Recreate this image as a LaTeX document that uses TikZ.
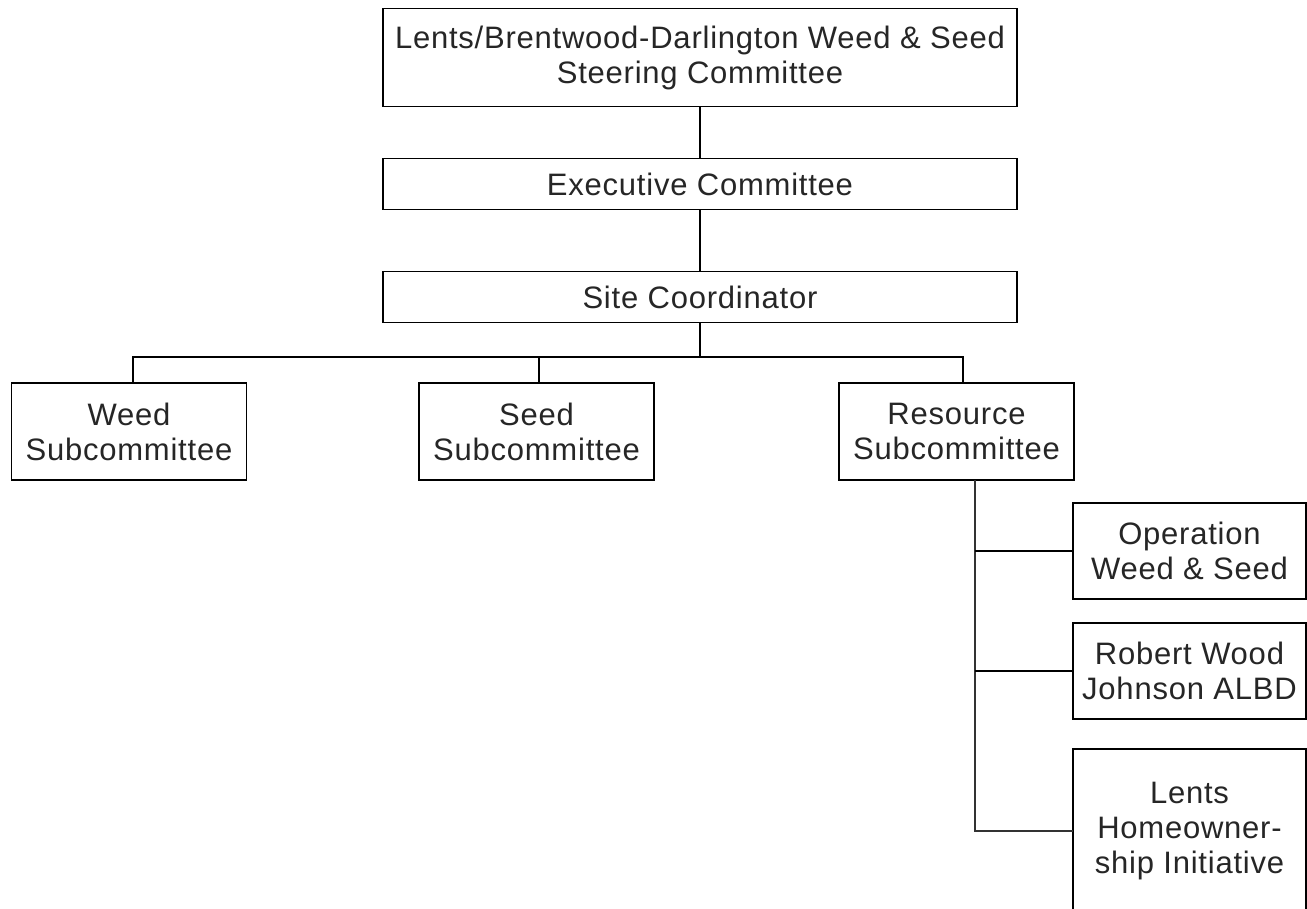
\documentclass[tikz,border=0pt]{standalone}
\usepackage{fontspec}
\setmainfont[LetterSpace=2.5]{Liberation Sans}
\begin{document}
\begin{tikzpicture}[x=1pt,y=-1pt,inner sep=0pt,outer sep=0pt,line width=1.6pt,
orgbox/.style={draw,rectangle,align=center,text=black!85,font=\fontsize{31}{35}\selectfont,line width=1.6pt},
wide/.style={orgbox,minimum width=634pt},
sub/.style={orgbox,minimum width=235pt,minimum height=97pt}]
\fill[white] (0,0) rectangle (1307,909);
\useasboundingbox (0,0) rectangle (1307,909);
\draw (700,57.5) node[wide,minimum height=98pt] (steer) {Lents/Brentwood-Darlington Weed \& Seed\\Steering Committee};
\draw (700,184) node[wide,minimum height=51pt] (exec) {Executive Committee};
\draw (700,297) node[wide,minimum height=51pt] (site) {Site Coordinator};
\draw (129,431.5) node[sub] (weed) {Weed\\Subcommittee};
\draw (536.5,431.5) node[sub] (seed) {Seed\\Subcommittee};
\draw (956.5,431.5) node[sub] (res) {Resource\\Subcommittee};
\draw (1189.5,551) node[sub,minimum width=233pt,minimum height=96pt] (ows) {Operation\\Weed \& Seed};
\draw (1189.5,671) node[sub,minimum width=233pt,minimum height=96pt] (rwj) {Robert Wood\\Johnson ALBD};
\draw (1189.5,831) node[sub,minimum width=233pt,minimum height=164pt] (lhi) {Lents\\Homeowner-\\ship Initiative};
\draw (steer) -- (exec);
\draw (exec) -- (site);
\path (site.south) ++(0,34.5) coordinate (bus);
\draw (site.south) -- (bus);
\draw (bus) -| ([xshift=4pt]weed.north);
\draw (bus) -| ([xshift=2.5pt]seed.north);
\draw (bus) -| ([xshift=6.5pt]res.north);
\path (res.south) ++(18.5,0) coordinate (spine);
\draw[black!80] (spine) |- (lhi.west);
\draw (spine |- ows.west) -- (ows.west);
\draw (spine |- rwj.west) -- (rwj.west);
\end{tikzpicture}
\end{document}
